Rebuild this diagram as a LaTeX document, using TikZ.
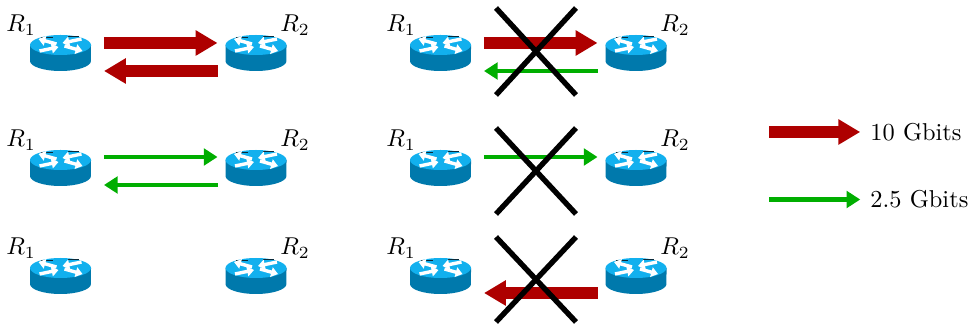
\documentclass[tikz,border=0pt]{standalone}
\usetikzlibrary{arrows.meta}
\definecolor{rtop}{HTML}{12B0EE}
\definecolor{rbody}{HTML}{0079AC}
\definecolor{rdark}{HTML}{0A2A3A}
\definecolor{bigred}{HTML}{AE0000}
\definecolor{biggreen}{HTML}{00AE00}
\tikzset{
  x=0.41pt,y=-0.41pt,
  rbox/.style={inner sep=0pt,outer sep=0pt,minimum width=25pt,minimum height=15.2pt},
  lab/.style={inner sep=0pt},
  fat/.style={draw=bigred,line width=5.3pt,-{Triangle[length=9pt,width=9.9pt]}},
  slim/.style={draw=biggreen,line width=2pt,-{Triangle[length=5.6pt,width=6.8pt]}},
  cross/.style={draw=black,line width=2.2pt},
  arm/.style={draw=white,line width=1.4pt,-{Triangle[length=2.8pt,width=4pt]}},
}
\newcommand{\router}[3]{%
  \node[rbox] (#1) at (#2,#3) {};
  \begin{scope}[shift={(#2,#3)}]
    \fill[rbody] (-30.5,-8) -- (-30.5,8) arc[x radius=12.5pt,y radius=4.1pt,start angle=180,end angle=360] -- (30.5,-8) -- cycle;
    \fill[rtop] (0,-8) ellipse[x radius=12.5pt,y radius=4.1pt];
    \draw[rdark,line width=0.45pt] (-20,-15.8) -- (-8,-15.8);
    \draw[rdark,line width=0.45pt] (7,-16.5) -- (18,-16.5);
    \draw[arm] (-4,-9) -- (-22,-14);
    \draw[arm] (4,-7) -- (22,-2);
    \draw[arm] (21,-14) -- (2,-10);
    \draw[arm] (-21,-2) -- (-2,-6);
  \end{scope}}
\newcommand{\xmark}[3]{%
  \coordinate (#1a) at (496,#2);
  \coordinate (#1b) at (576,#3);
  \coordinate (#1c) at (576,#2);
  \coordinate (#1d) at (496,#3);
  \draw[cross] (#1a) -- (#1b);
  \draw[cross] (#1c) -- (#1d);}
\begin{document}
\begin{tikzpicture}
\useasboundingbox (0,0) rectangle (968,325);
% routers
\router{a1}{60.5}{53}\router{a2}{256}{53}
\router{b1}{60.5}{168}\router{b2}{256}{168}
\router{c1}{60.5}{276}\router{c2}{256}{276}
\router{d1}{440.5}{53}\router{d2}{636}{53}
\router{e1}{440.5}{168}\router{e2}{636}{168}
\router{f1}{440.5}{276}\router{f2}{636}{276}
% labels
\foreach \n/\x/\y/\t in {l1/21/25/R_1,l2/295/25/R_2,l3/21/140/R_1,l4/295/140/R_2,l5/21/248/R_1,l6/295/248/R_2,
  l7/401/25/R_1,l8/675/25/R_2,l9/401/140/R_1,l10/675/140/R_2,l11/401/248/R_1,l12/675/248/R_2}
  \node[lab] (\n) at (\x,\y) {$\t$};
% connectors
\draw[fat] ([shift={(13,-10)}]a1.east) -- ([shift={(-8,-10)}]a2.west);
\draw[fat] ([shift={(-8,18)}]a2.west) -- ([shift={(13,18)}]a1.east);
\draw[slim] ([shift={(13,-11)}]b1.east) -- ([shift={(-8,-11)}]b2.west);
\draw[slim] ([shift={(-8,17)}]b2.west) -- ([shift={(13,17)}]b1.east);
\draw[fat] ([shift={(13,-10)}]d1.east) -- ([shift={(-8,-10)}]d2.west);
\draw[slim] ([shift={(-8,18)}]d2.west) -- ([shift={(13,18)}]d1.east);
\draw[slim] ([shift={(13,-11)}]e1.east) -- ([shift={(-8,-11)}]e2.west);
\draw[fat] ([shift={(-8,17)}]f2.west) -- ([shift={(13,17)}]f1.east);
% crosses
\xmark{p}{8}{95}
\xmark{q}{128}{214}
\xmark{r}{237}{322}
% legend
\node[lab,anchor=west] (t1) at (870,132) {10 Gbits};
\node[lab,anchor=west] (t2) at (870,199.5) {2.5 Gbits};
\coordinate (s1) at (769,132);
\coordinate (s2) at (769,199.5);
\draw[fat] (s1) -- ([xshift=-4pt]t1.west);
\draw[slim] (s2) -- ([xshift=-4pt]t2.west);
\end{tikzpicture}
\end{document}
